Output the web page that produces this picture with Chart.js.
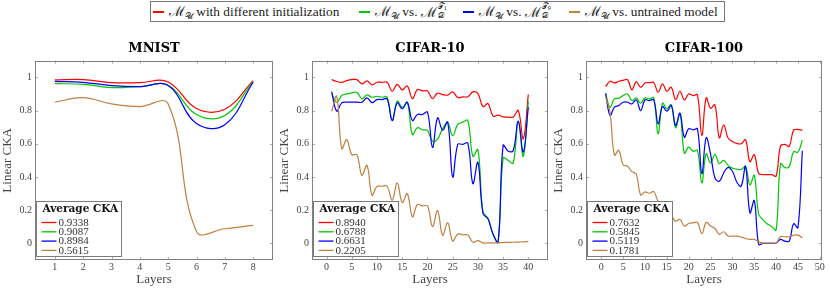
<!DOCTYPE html>
<html>
<head>
<meta charset="utf-8">
<script src="https://cdn.jsdelivr.net/npm/chart.js@4.4.1/dist/chart.umd.min.js"></script>
<style>
  body { margin: 0; width: 830px; height: 291px; background: #fff; position: relative; overflow: hidden; font-family: "Liberation Serif", serif; color: #222; }
  #legend { position: absolute; left: 150px; top: 1px; width: 575px; height: 21px; border: 1px solid #777; box-sizing: border-box; }
  .item { position: absolute; top: 0; height: 19px; display: flex; align-items: center; font-size: 13.3px; white-space: nowrap; }
  .sw { flex: none; width: 11px; height: 2px; margin-right: 5px; }
  .m { font-size: 14px; }
  .m sub { font-size: 9px; vertical-align: -3px; }
  .ss { display: inline-flex; flex-direction: column; font-size: 8px; line-height: 8px; vertical-align: -5px; margin-left: 1px; }
  .ss sub { font-size: 6px; vertical-align: -1px; }
  canvas { position: absolute; top: 36px; }
</style>
</head>
<body>
<div id="legend">
  <div class="item" style="left:2px"><div class="sw" style="background-color:rgb(255,0,0)"></div><span class="m">ℳ<sub>𝒰</sub></span>&nbsp;with different initialization</div>
  <div class="item" style="left:208px"><div class="sw" style="background-color:rgb(0,200,0)"></div><span class="m">ℳ<sub>𝒰</sub></span>&nbsp;vs.&nbsp;<span class="m">ℳ</span><span class="ss"><span>𝒯<sub>1</sub></span><span>𝒟</span></span></div>
  <div class="item" style="left:312px"><div class="sw" style="background-color:rgb(0,0,255)"></div><span class="m">ℳ<sub>𝒰</sub></span>&nbsp;vs.&nbsp;<span class="m">ℳ</span><span class="ss"><span>𝒯<sub>9</sub></span><span>𝒟</span></span></div>
  <div class="item" style="left:418px"><div class="sw" style="background-color:rgb(191,128,64)"></div><span class="m">ℳ<sub>𝒰</sub></span>&nbsp;vs. untrained model</div>
</div>
<canvas id="mnist" width="280" height="255" style="left:0px"></canvas>
<canvas id="cifar10" width="278" height="255" style="left:277px"></canvas>
<canvas id="cifar100" width="279" height="255" style="left:551px"></canvas>
<script>
// series colours: different init, vs T1, vs T9, vs untrained
const colors = ['#ff0000', '#00c800', '#0000ff', '#bf8040'];
const yTicks = [0, 0.2, 0.4, 0.6, 0.8, 1];

// MNIST
const mnistLayers = [1, 2, 3, 4, 5, 6, 7, 8];
const mnistInit  = [0.984, 0.986, 0.968, 0.968, 0.972, 0.812, 0.808, 0.980];
const mnistT1    = [0.962, 0.958, 0.938, 0.944, 0.952, 0.776, 0.770, 0.974];
const mnistT9    = [0.976, 0.970, 0.950, 0.944, 0.950, 0.722, 0.714, 0.970];
const mnistUntr  = [0.850, 0.878, 0.840, 0.824, 0.840, 0.072, 0.088, 0.108];
const mnistAvg   = ['0.9338', '0.9087', '0.8984', '0.5615'];
const mnistXTicks = [1, 2, 3, 4, 5, 6, 7, 8];

// CIFAR-10
const c10Init = [0.986, 0.975, 0.970, 0.980, 0.986, 0.986, 0.960, 0.978, 0.955, 0.970,
                 0.970, 0.970, 0.916, 0.958, 0.924, 0.948, 0.872, 0.926, 0.918, 0.918,
                 0.872, 0.905, 0.896, 0.893, 0.912, 0.878, 0.882, 0.883, 0.912, 0.902,
                 0.824, 0.842, 0.766, 0.772, 0.762, 0.760, 0.761, 0.800, 0.630, 0.897];
const c10T1   = [0.900, 0.850, 0.890, 0.900, 0.906, 0.910, 0.870, 0.894, 0.880, 0.886,
                 0.880, 0.880, 0.740, 0.856, 0.820, 0.848, 0.656, 0.696, 0.684, 0.680,
                 0.614, 0.628, 0.690, 0.728, 0.648, 0.716, 0.730, 0.740, 0.524, 0.564,
                 0.190, 0.150, 0.055, 0.010, 0.514, 0.500, 0.484, 0.734, 0.524, 0.854];
const c10T9   = [0.914, 0.796, 0.846, 0.850, 0.850, 0.850, 0.850, 0.876, 0.848, 0.866,
                 0.866, 0.870, 0.740, 0.846, 0.810, 0.850, 0.740, 0.776, 0.776, 0.790,
                 0.578, 0.756, 0.682, 0.730, 0.400, 0.596, 0.596, 0.604, 0.360, 0.488,
                 0.180, 0.148, 0.056, 0.008, 0.590, 0.555, 0.558, 0.736, 0.550, 0.820];
const c10Untr = [0.796, 0.884, 0.570, 0.624, 0.534, 0.534, 0.410, 0.470, 0.290, 0.344,
                 0.344, 0.344, 0.260, 0.364, 0.246, 0.300, 0.160, 0.234, 0.226, 0.226,
                 0.102, 0.197, 0.049, 0.124, 0.014, 0.057, 0.052, 0.050, 0.007, 0.017,
                 0.003, 0.003, 0.003, 0.003, 0.006, 0.006, 0.007, 0.008, 0.009, 0.012];
const c10Avg = ['0.8940', '0.6788', '0.6631', '0.2205'];
const c10XTicks = [0, 5, 10, 15, 20, 25, 30, 35, 40];

// CIFAR-100
const c100Init = [0.944, 0.976, 0.966, 0.976, 0.982, 0.986, 0.924, 0.974, 0.940, 0.966,
                  0.968, 0.968, 0.910, 0.960, 0.916, 0.940, 0.866, 0.916, 0.864, 0.900,
                  0.890, 0.894, 0.650, 0.876, 0.814, 0.834, 0.636, 0.714, 0.634, 0.614,
                  0.602, 0.600, 0.624, 0.492, 0.534, 0.422, 0.414, 0.414, 0.414, 0.406,
                  0.585, 0.596, 0.584, 0.682, 0.686, 0.682];
const c100T1   = [0.900, 0.820, 0.870, 0.874, 0.890, 0.900, 0.860, 0.876, 0.844, 0.876,
                  0.870, 0.876, 0.660, 0.844, 0.810, 0.836, 0.696, 0.780, 0.544, 0.580,
                  0.554, 0.560, 0.364, 0.540, 0.484, 0.536, 0.480, 0.500, 0.470, 0.453,
                  0.447, 0.444, 0.462, 0.352, 0.410, 0.177, 0.142, 0.117, 0.102, 0.080,
                  0.479, 0.456, 0.462, 0.552, 0.549, 0.622];
const c100T9   = [0.904, 0.770, 0.820, 0.830, 0.850, 0.850, 0.840, 0.864, 0.800, 0.864,
                  0.860, 0.864, 0.720, 0.824, 0.796, 0.830, 0.710, 0.784, 0.640, 0.690,
                  0.684, 0.690, 0.420, 0.636, 0.537, 0.394, 0.374, 0.424, 0.458, 0.434,
                  0.370, 0.344, 0.464, 0.184, 0.258, -0.006, 0.000, 0.000, 0.000, 0.002,
                  0.024, 0.014, 0.014, 0.118, 0.094, 0.558];
const c100Untr = [0.882, 0.787, 0.532, 0.560, 0.472, 0.465, 0.432, 0.417, 0.292, 0.310,
                  0.302, 0.312, 0.255, 0.240, 0.200, 0.170, 0.134, 0.144, 0.104, 0.120,
                  0.124, 0.126, 0.058, 0.126, 0.104, 0.090, 0.054, 0.070, 0.044, 0.044,
                  0.044, 0.038, 0.030, 0.024, 0.024, 0.010, 0.002, 0.002, 0.002, 0.002,
                  0.040, 0.040, 0.040, 0.050, 0.050, 0.034];
const c100Avg = ['0.7632', '0.5845', '0.5119', '0.1781'];
const c100XTicks = [0, 5, 10, 15, 20, 25, 30, 35, 40, 45, 50];

const layerIndex = n => Array.from({ length: n }, (_, i) => i + 1);

// pgfplots-like frame: inward tick marks, gray box, legend inside lower-left
const pgfAxis = {
    id: 'pgfAxis',
    beforeDatasetsDraw(chart) {
        const { ctx, chartArea: a, scales: { x, y } } = chart;
        ctx.save();
        ctx.strokeStyle = '#b0b0b0';
        ctx.lineWidth = 1;
        ctx.beginPath();
        x.ticks.forEach(t => {
            const px = Math.round(x.getPixelForValue(t.value)) + 0.5;
            ctx.moveTo(px, a.top); ctx.lineTo(px, a.top + 3);
            ctx.moveTo(px, a.bottom); ctx.lineTo(px, a.bottom - 3);
        });
        y.ticks.forEach(t => {
            const py = Math.round(y.getPixelForValue(t.value)) + 0.5;
            ctx.moveTo(a.left, py); ctx.lineTo(a.left + 3, py);
            ctx.moveTo(a.right, py); ctx.lineTo(a.right - 3, py);
        });
        ctx.stroke();
        ctx.restore();
    },
    afterDatasetsDraw(chart, args, opts) {
        const { ctx, chartArea: a } = chart;
        ctx.save();
        ctx.strokeStyle = '#808080';
        ctx.lineWidth = 1;
        ctx.strokeRect(Math.round(a.left) + 0.5, Math.round(a.top) + 0.5,
                       Math.round(a.width) - 1, Math.round(a.height) - 1);

        const lx = Math.round(a.left) + 1.5, lw = 85, lh = 55;
        const ly = Math.round(a.bottom) - 3.5 - lh;
        ctx.fillStyle = '#fff';
        ctx.fillRect(lx, ly, lw, lh);
        ctx.strokeStyle = '#7a7a7a';
        ctx.strokeRect(lx, ly, lw, lh);
        ctx.fillStyle = '#111';
        ctx.textBaseline = 'middle';
        ctx.font = 'bold 10.5px "DejaVu Serif"';
        ctx.fillText('Average CKA', lx + 6, ly + 8);
        ctx.font = '11px "Liberation Serif"';
        opts.values.forEach((v, i) => {
            const cy = ly + 21 + i * 9.3;
            ctx.strokeStyle = colors[i];
            ctx.lineWidth = 1.3;
            ctx.beginPath();
            ctx.moveTo(lx + 5, cy); ctx.lineTo(lx + 20, cy);
            ctx.stroke();
            ctx.fillStyle = '#333';
            ctx.fillText(v, lx + 22, cy + 0.5);
        });
        ctx.restore();
    }
};

function makeChart(id, title, layers, series, avg, xTicks, xMin, xMax, padRight) {
    const datasets = series.map((vals, i) => ({
        data: vals.map((v, j) => ({ x: layers[j], y: v })),
        borderColor: colors[i],
        borderWidth: 1.2,
        pointRadius: 0,
        tension: 0.4,
        fill: false,
        order: 4 - i
    }));
    return new Chart(document.getElementById(id), {
        type: 'line',
        data: { datasets },
        plugins: [pgfAxis],
        options: {
            responsive: false,
            animation: false,
            devicePixelRatio: 1,
            layout: { padding: { right: padRight, left: 0, top: 0, bottom: 0 } },
            plugins: {
                legend: { display: false },
                tooltip: { enabled: false },
                title: {
                    display: true, text: title, fullSize: false, color: '#000',
                    font: { family: 'DejaVu Serif', size: 13, weight: 'bold' },
                    padding: { top: 4.5, bottom: 4.6 }
                },
                pgfAxis: { values: avg }
            },
            scales: {
                x: {
                    type: 'linear', min: xMin, max: xMax,
                    afterBuildTicks: s => { s.ticks = xTicks.map(v => ({ value: v })); },
                    afterFit: s => { s.height = 31; },
                    grid: { display: false, drawTicks: false },
                    border: { display: false },
                    ticks: { padding: 1.5, color: '#444', font: { family: 'Liberation Serif', size: 10 }, maxRotation: 0 },
                    title: { display: true, text: 'Layers', color: '#444', padding: { top: 0, bottom: 3.2 },
                             font: { family: 'Liberation Serif', size: 13 } }
                },
                y: {
                    type: 'linear', min: -0.1, max: 1.1,
                    afterBuildTicks: s => { s.ticks = yTicks.map(v => ({ value: v })); },
                    afterFit: s => { s.width = 35; },
                    grid: { display: false, drawTicks: false },
                    border: { display: false },
                    ticks: { padding: 3, color: '#444', font: { family: 'Liberation Serif', size: 10 },
                             callback: v => String(Math.round(v * 10) / 10) },
                    title: { display: true, text: 'Linear CKA', color: '#444', padding: { top: 0, bottom: 0 },
                             font: { family: 'Liberation Serif', size: 13 } }
                }
            }
        }
    });
}

makeChart('mnist', 'MNIST', mnistLayers, [mnistInit, mnistT1, mnistT9, mnistUntr],
          mnistAvg, mnistXTicks, 0.3, 8.7, 7);
makeChart('cifar10', 'CIFAR-10', layerIndex(40), [c10Init, c10T1, c10T9, c10Untr],
          c10Avg, c10XTicks, -2.9, 43.9, 7);
makeChart('cifar100', 'CIFAR-100', layerIndex(46), [c100Init, c100T1, c100T9, c100Untr],
          c100Avg, c100XTicks, -3.5, 50.5, 8);
</script>
</body>
</html>
